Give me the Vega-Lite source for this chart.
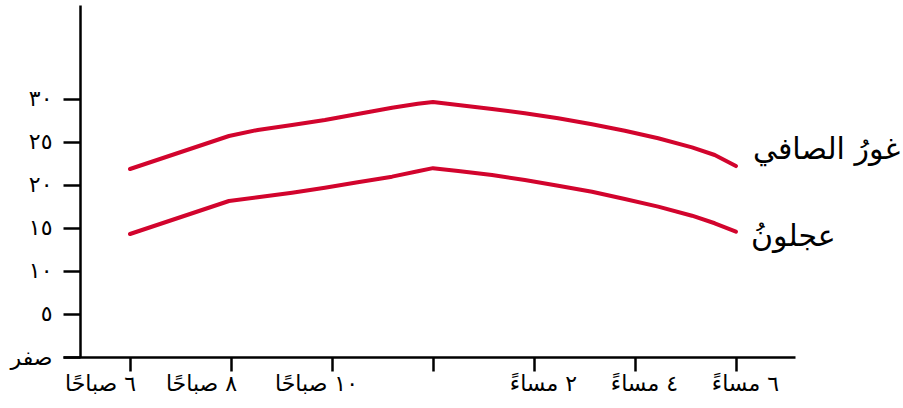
{
  "$schema": "https://vega.github.io/schema/vega-lite/v6.json",
  "autosize": {"type": "none"},
  "padding": {"left": 63, "top": 5, "right": 108, "bottom": 51},
  "width": 732,
  "height": 352,
  "background": "white",
  "config": {"view": {"stroke": null}, "font": "DejaVu Sans"},
  "data": {"values": [
    {"city": "غورُ الصافي", "hour": 6, "temp": 21.86},
    {"city": "غورُ الصافي", "hour": 7.96, "temp": 25.7},
    {"city": "غورُ الصافي", "hour": 8.53, "temp": 26.4},
    {"city": "غورُ الصافي", "hour": 9.21, "temp": 26.98},
    {"city": "غورُ الصافي", "hour": 9.86, "temp": 27.56},
    {"city": "غورُ الصافي", "hour": 10.51, "temp": 28.26},
    {"city": "غورُ الصافي", "hour": 11.19, "temp": 28.99},
    {"city": "غورُ الصافي", "hour": 11.7, "temp": 29.45},
    {"city": "غورُ الصافي", "hour": 12, "temp": 29.65},
    {"city": "غورُ الصافي", "hour": 12.5, "temp": 29.3},
    {"city": "غورُ الصافي", "hour": 13.17, "temp": 28.84},
    {"city": "غورُ الصافي", "hour": 13.82, "temp": 28.34},
    {"city": "غورُ الصافي", "hour": 14.48, "temp": 27.76},
    {"city": "غورُ الصافي", "hour": 15.15, "temp": 27.06},
    {"city": "غورُ الصافي", "hour": 15.8, "temp": 26.31},
    {"city": "غورُ الصافي", "hour": 16.46, "temp": 25.43},
    {"city": "غورُ الصافي", "hour": 17.13, "temp": 24.38},
    {"city": "غورُ الصافي", "hour": 17.58, "temp": 23.49},
    {"city": "غورُ الصافي", "hour": 18, "temp": 22.2},
    {"city": "عجلونُ", "hour": 6, "temp": 14.3},
    {"city": "عجلونُ", "hour": 7.96, "temp": 18.14},
    {"city": "عجلونُ", "hour": 8.53, "temp": 18.57},
    {"city": "عجلونُ", "hour": 9.21, "temp": 19.1},
    {"city": "عجلونُ", "hour": 9.86, "temp": 19.69},
    {"city": "عجلونُ", "hour": 10.51, "temp": 20.31},
    {"city": "عجلونُ", "hour": 11.19, "temp": 20.97},
    {"city": "عجلونُ", "hour": 11.7, "temp": 21.6},
    {"city": "عجلونُ", "hour": 12, "temp": 21.96},
    {"city": "عجلونُ", "hour": 12.5, "temp": 21.63},
    {"city": "عجلونُ", "hour": 13.17, "temp": 21.16},
    {"city": "عجلونُ", "hour": 13.82, "temp": 20.58},
    {"city": "عجلونُ", "hour": 14.48, "temp": 19.92},
    {"city": "عجلونُ", "hour": 15.15, "temp": 19.22},
    {"city": "عجلونُ", "hour": 15.8, "temp": 18.37},
    {"city": "عجلونُ", "hour": 16.46, "temp": 17.48},
    {"city": "عجلونُ", "hour": 17.13, "temp": 16.43},
    {"city": "عجلونُ", "hour": 17.58, "temp": 15.55},
    {"city": "عجلونُ", "hour": 18, "temp": 14.57}
  ]},
  "encoding": {
    "x": {
      "field": "hour", "type": "quantitative",
      "scale": {"domain": [4.673, 19.17], "nice": false, "zero": false},
      "axis": {
        "title": null, "grid": false,
        "values": [6, 8, 10, 12, 14, 16, 18],
        "domainColor": "black", "domainWidth": 2.5,
        "tickColor": "black", "tickWidth": 2.5, "tickSize": 14,
        "labelFontSize": 22, "labelColor": "black", "labelPadding": 2,
        "labelFont": "DejaVu Sans",
        "labelOffset": {"condition": [{"test": "datum.value == 10", "value": -16}, {"test": "datum.value < 12", "value": -30}], "value": 9},
        "labelExpr": "datum.value == 6 ? '٦ صباحًا' : datum.value == 8 ? '٨ صباحًا' : datum.value == 10 ? '١٠ صباحًا' : datum.value == 14 ? '٢ مساءً' : datum.value == 16 ? '٤ مساءً' : datum.value == 18 ? '٦ مساءً' : ''"
      }
    },
    "y": {
      "field": "temp", "type": "quantitative",
      "scale": {"domain": [0, 40.93], "nice": false},
      "axis": {
        "title": null, "grid": false, "offset": -17,
        "values": [0, 5, 10, 15, 20, 25, 30],
        "domainColor": "black", "domainWidth": 2.5,
        "tickColor": "black", "tickWidth": 2.5, "tickSize": 17,
        "labelFontSize": 22, "labelColor": "black", "labelPadding": 11,
        "labelFont": "DejaVu Sans",
        "labelExpr": "datum.value == 0 ? 'صفر' : datum.value == 5 ? '٥' : datum.value == 10 ? '١٠' : datum.value == 15 ? '١٥' : datum.value == 20 ? '٢٠' : datum.value == 25 ? '٢٥' : '٣٠'"
      }
    }
  },
  "layer": [
    {
      "mark": {"type": "line", "color": "#d2042d", "strokeWidth": 4, "strokeCap": "round", "strokeJoin": "round"},
      "encoding": {"detail": {"field": "city"}, "order": {"field": "hour"}}
    },
    {
      "transform": [{"filter": "datum.hour == 18 && datum.temp > 20"}],
      "mark": {"type": "text", "align": "left", "baseline": "middle", "dx": 17, "dy": -16, "fontSize": 30, "color": "black", "font": "DejaVu Sans"},
      "encoding": {"text": {"field": "city"}}
    },
    {
      "transform": [{"filter": "datum.hour == 18 && datum.temp < 20"}],
      "mark": {"type": "text", "align": "left", "baseline": "middle", "dx": 15, "dy": 5, "fontSize": 30, "color": "black", "font": "DejaVu Sans"},
      "encoding": {"text": {"field": "city"}}
    }
  ]
}
